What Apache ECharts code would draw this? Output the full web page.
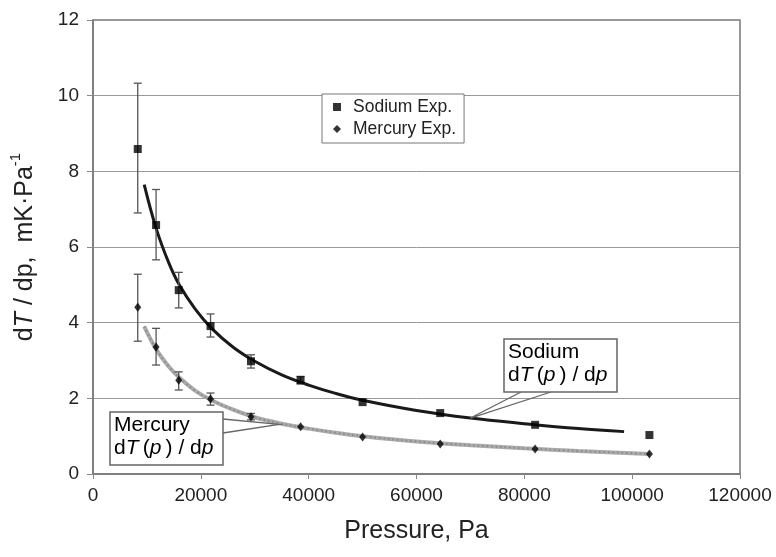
<!DOCTYPE html>
<html>
<head>
<meta charset="utf-8">
<script src="https://cdn.jsdelivr.net/npm/echarts@6/dist/echarts.min.js"></script>
<style>
  html, body { margin: 0; padding: 0; background: #fff; }
  #chart { width: 776px; height: 557px; }
</style>
</head>
<body>
<div id="chart"></div>
<script>
// Experimental pressures (Pa)
const pressures = [8300, 11700, 15900, 21800, 29300, 38500, 50000, 64400, 82000, 103200];

// Sodium measurements, mK/Pa, with error limits
const sodiumExp = [8.59, 6.58, 4.86, 3.91, 2.98, 2.48, 1.90, 1.61, 1.30, 1.03];
const sodiumLow = [6.90, 5.66, 4.39, 3.62, 2.80, 2.38, null, null, null, null];
const sodiumHigh = [10.33, 7.52, 5.33, 4.23, 3.15, 2.58, null, null, null, null];

// Mercury measurements, mK/Pa, with error limits
const mercuryExp = [4.41, 3.36, 2.48, 1.98, 1.51, 1.25, 0.98, 0.79, 0.66, 0.53];
const mercuryLow = [3.51, 2.88, 2.22, 1.82, 1.43, null, null, null, null, null];
const mercuryHigh = [5.28, 3.85, 2.70, 2.14, 1.60, null, null, null, null, null];

// Model curves dT(p)/dp
const curvePressSodium = [9500, 11700, 14000, 16000, 19000, 22000, 26000, 30000, 35000, 40000, 45000, 50000, 60000, 70000, 80000, 90000, 98500];
const curveSodium = [7.65, 6.50, 5.60, 5.00, 4.35, 3.85, 3.35, 2.98, 2.62, 2.35, 2.13, 1.95, 1.68, 1.48, 1.33, 1.20, 1.12];
const curvePressMercury = [9500, 11700, 14000, 16000, 19000, 22000, 26000, 30000, 35000, 40000, 45000, 50000, 60000, 70000, 80000, 90000, 103200];
const curveMercury = [3.90, 3.30, 2.85, 2.55, 2.20, 1.95, 1.70, 1.50, 1.33, 1.20, 1.09, 1.00, 0.86, 0.76, 0.68, 0.61, 0.53];

// Axis ticks
const xTicks = [0, 20000, 40000, 60000, 80000, 100000, 120000];
const yTicks = [0, 2, 4, 6, 8, 10, 12];

const zip = (xs, ys) => xs.map((x, i) => [x, ys[i]]);
const errData = (lo, hi) => pressures.map((p, i) => [p, lo[i], hi[i]]).filter(d => d[1] != null);

function errorBars(params, api) {
  const x = api.value(0);
  const a = api.coord([x, api.value(1)]);
  const b = api.coord([x, api.value(2)]);
  const w = 4;
  const style = { stroke: '#555', lineWidth: 1.3 };
  return {
    type: 'group',
    children: [
      { type: 'line', shape: { x1: a[0], y1: a[1], x2: b[0], y2: b[1] }, style },
      { type: 'line', shape: { x1: a[0] - w, y1: a[1], x2: a[0] + w, y2: a[1] }, style },
      { type: 'line', shape: { x1: b[0] - w, y1: b[1], x2: b[0] + w, y2: b[1] }, style }
    ]
  };
}

const chart = echarts.init(document.getElementById('chart'));
const fontFamily = '"Liberation Sans", Arial, sans-serif';

chart.setOption({
  animation: false,
  backgroundColor: '#fff',
  textStyle: { fontFamily },
  grid: { left: 92, right: 36, top: 20, bottom: 83, show: true, borderColor: '#777', borderWidth: 1.5 },
  xAxis: {
    type: 'value',
    min: xTicks[0], max: xTicks[xTicks.length - 1], interval: 20000,
    name: 'Pressure, Pa',
    nameLocation: 'middle',
    nameGap: 45,
    nameTextStyle: { fontSize: 25, color: '#222', fontFamily },
    axisLine: { show: true, onZero: false, lineStyle: { color: '#777', width: 1.5 } },
    axisTick: { show: true, length: 5, lineStyle: { color: '#888' } },
    axisLabel: { fontSize: 19, color: '#222', margin: 12, fontFamily, formatter: v => String(v) },
    splitLine: { show: false }
  },
  yAxis: {
    type: 'value',
    min: yTicks[0], max: yTicks[yTicks.length - 1], interval: 2,
    name: '{n|d}{i|T}{n| / dp,  mK·Pa}{s|-1}',
    nameLocation: 'middle',
    nameGap: 55,
    nameRotate: 90,
    nameTextStyle: {
      color: '#222',
      rich: {
        n: { fontSize: 25, fontFamily, color: '#222', lineHeight: 30, verticalAlign: 'bottom' },
        i: { fontSize: 25, fontFamily, fontStyle: 'italic', color: '#222', lineHeight: 30, verticalAlign: 'bottom' },
        s: { fontSize: 15, fontFamily, color: '#222', lineHeight: 30, verticalAlign: 'top' }
      }
    },
    axisLine: { show: true, lineStyle: { color: '#777', width: 1.5 } },
    axisTick: { show: true, length: 6, lineStyle: { color: '#888' } },
    axisLabel: { fontSize: 19, color: '#222', margin: 14, fontFamily },
    splitLine: { show: true, lineStyle: { color: '#999', width: 1 } }
  },
  legend: {
    left: 322, top: 94,
    orient: 'vertical',
    padding: [4, 8, 5, 11],
    itemGap: 4,
    itemWidth: 8, itemHeight: 8,
    backgroundColor: '#fff',
    borderColor: '#777',
    borderWidth: 1,
    textStyle: { fontSize: 17.5, color: '#222', fontFamily, padding: [0, 0, 0, 7] },
    data: [
      { name: 'Sodium Exp.', icon: 'rect' },
      { name: 'Mercury Exp.', icon: 'diamond' }
    ]
  },
  series: [
    {
      name: 'Mercury curve', type: 'line', data: zip(curvePressMercury, curveMercury),
      smooth: 0.4, showSymbol: false, z: 2,
      lineStyle: { color: '#ababab', width: 4 }
    },
    {
      name: 'Mercury curve dots', type: 'line', data: zip(curvePressMercury, curveMercury),
      smooth: 0.4, showSymbol: false, z: 2,
      lineStyle: { color: '#8a8a8a', width: 2, type: [1.5, 3] }
    },
    {
      name: 'Sodium curve', type: 'line', data: zip(curvePressSodium, curveSodium),
      smooth: 0.4, showSymbol: false, z: 2,
      lineStyle: { color: '#1a1a1a', width: 3 }
    },
    {
      name: 'Sodium err', type: 'custom', renderItem: errorBars,
      data: errData(sodiumLow, sodiumHigh), z: 3, silent: true
    },
    {
      name: 'Mercury err', type: 'custom', renderItem: errorBars,
      data: errData(mercuryLow, mercuryHigh), z: 3, silent: true
    },
    {
      name: 'Sodium Exp.', type: 'scatter', data: zip(pressures, sodiumExp),
      symbol: 'rect', symbolSize: 8, z: 4,
      itemStyle: { color: '#000' }
    },
    {
      name: 'Mercury Exp.', type: 'scatter', data: zip(pressures, mercuryExp),
      symbol: 'diamond', symbolSize: [7, 9], z: 4,
      itemStyle: { color: '#000' }
    }
  ]
});

// Callout labels naming each model curve
const tipSodium = chart.convertToPixel({ gridIndex: 0 }, [70000, 1.48]);
const tipMercury = chart.convertToPixel({ gridIndex: 0 }, [34500, 1.31]);

const boxStyle = { fill: '#fff', stroke: '#666', lineWidth: 1.5 };
const calloutLine = { stroke: '#666', lineWidth: 1.3, fill: null };
const richLabel = {
  n: { fontSize: 21, fontFamily, color: '#222', lineHeight: 23 },
  i: { fontSize: 21, fontFamily, fontStyle: 'italic', color: '#222', lineHeight: 23 }
};
const formula = '{n|d}{i|T}{n|\u2009(}{i|p}{n|\u2009) / d}{i|p}';

chart.setOption({
  graphic: [
    { type: 'polyline', z: 10, shape: { points: [[521, 392], tipSodium, [551, 392]] }, style: calloutLine },
    { type: 'rect', z: 11, shape: { x: 504, y: 339, width: 113, height: 53 }, style: boxStyle },
    { type: 'text', z: 12, left: 508, top: 342,
      style: { text: '{n|Sodium}\n' + formula, rich: richLabel } },
    { type: 'polyline', z: 10, shape: { points: [[223, 419], tipMercury, [223, 433]] }, style: calloutLine },
    { type: 'rect', z: 11, shape: { x: 110, y: 412, width: 113, height: 53 }, style: boxStyle },
    { type: 'text', z: 12, left: 114, top: 415,
      style: { text: '{n|Mercury}\n' + formula, rich: richLabel } }
  ]
});
</script>
</body>
</html>
